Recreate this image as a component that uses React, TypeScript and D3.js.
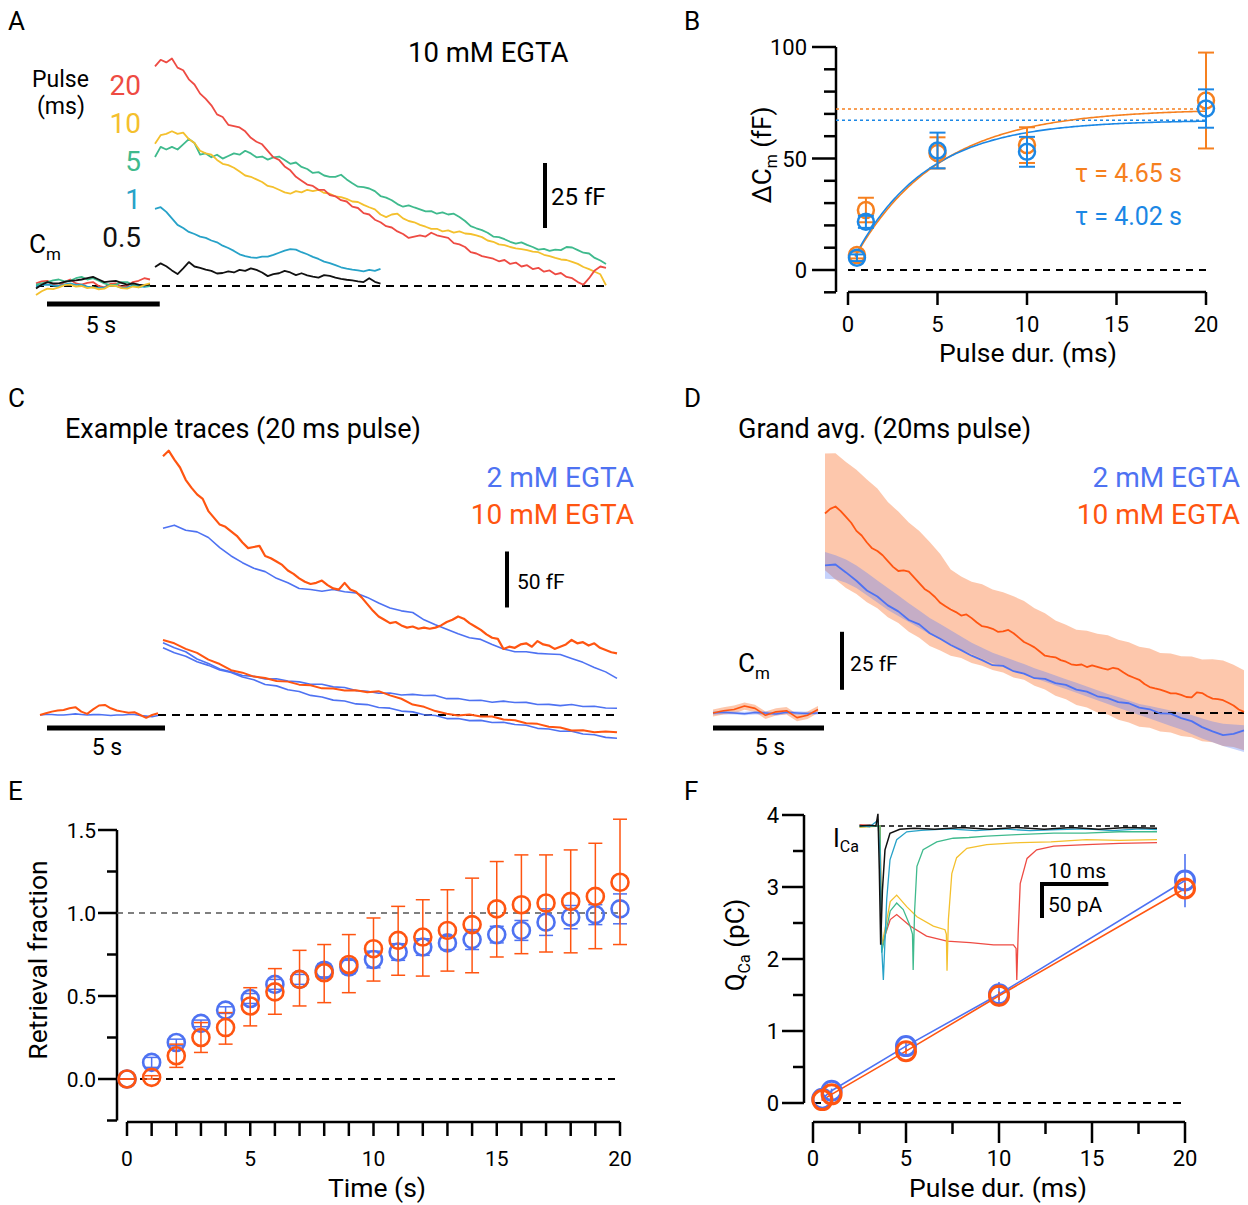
import * as d3 from "d3";
import React from "react";

const FONT = "Roboto, 'Liberation Sans', Arial, sans-serif";

// ---------- colours ----------
const cRed = "#ee4b43";
const cYellow = "#f4c02d";
const cGreen = "#3fba8d";
const cCyan = "#27a2c8";
const cBlack = "#111";
const bOrange = "#f6801f";
const bBlue = "#1b87e5";
const eBlue = "#4e72f2";
const eOrange = "#ff5511";

// ---------- panel A: example Cm traces, 10 mM EGTA (fF, 0.25 s steps) ----------
const aRed = [84.5, 87, 86, 87.5, 84, 83, 79.5, 77.5, 74, 72, 69.5, 66, 65, 62, 61.5, 61, 59.5, 57, 55.5, 54.5, 52, 49.5, 48.5, 46, 44.5, 42, 40.5, 39, 38.5, 37, 37, 35, 34.5, 33, 32.5, 30.5, 30, 28, 27.5, 25.5, 24.5, 23, 22.5, 21, 20, 18.5, 19, 19.5, 19, 20.5, 19.5, 19, 18.5, 16.5, 16, 15, 13, 12.5, 11.5, 11, 10.5, 9.5, 10, 8.5, 9, 7.5, 8, 6.5, 7, 5.5, 6, 4.5, 5, 3.5, 3, 1.5, 0.5, 3, 6, 7.5, 7];
const aYellow = [54.7, 58, 58.5, 59.5, 58.5, 59, 56.5, 55, 52, 51, 50.5, 48.5, 47, 46.5, 45.5, 44, 42.5, 42, 41, 40, 38.5, 38, 37, 36, 35.5, 36.5, 36, 37, 36.5, 37, 35.8, 35.5, 34.5, 34.2, 33.5, 32.5, 32.3, 31.2, 30.3, 29.5, 27.5, 26.5, 27.5, 27.8, 26, 25, 24.5, 23.5, 22.8, 22, 22, 21, 21.4, 20.5, 21, 20.2, 20, 19.5, 18.8, 17.5, 17, 16, 15.7, 15, 14.5, 14.2, 13.8, 13.2, 13, 12, 11.5, 10.8, 10.2, 10, 9.3, 8.5, 7.3, 6.5, 5.5, 4.5, 0.3];
const aGreen = [49.6, 53.5, 52.5, 53.5, 52.5, 54.5, 56.5, 55, 50.5, 51, 49.5, 50.5, 49, 50, 51, 50.5, 52, 51, 49.5, 49.8, 48.6, 49.5, 49.8, 48.5, 47, 47.5, 45.8, 45, 43.5, 43.8, 42.5, 42, 42, 42.8, 41, 39.5, 38.2, 38, 37.5, 36.5, 34.6, 34, 33, 31.5, 30.5, 31, 30.2, 29.5, 28.7, 28.8, 27.8, 28.3, 27.5, 27.8, 26.5, 25, 23, 22.2, 21.5, 20.5, 19, 18.8, 18, 17, 16.3, 16.8, 15.8, 15, 14, 14.3, 13.5, 14, 13.8, 15, 14.8, 13.8, 12.8, 12.5, 10.8, 9.8, 8.5];
const aCyan = [29.7, 30.3, 28.5, 26, 23.5, 22.3, 20.8, 20, 19, 18.5, 17.5, 16.8, 15.5, 14.6, 13.5, 12.2, 11.5, 11, 10.8, 11.3, 11.3, 12, 12.8, 13.6, 14.2, 14, 13, 12.2, 11.2, 10.4, 9.4, 8.8, 8, 7.2, 6.7, 6.3, 6, 5.6, 6.2, 5.8, 6.6];
const aBlack = [7.3, 8.7, 7.6, 6, 4.6, 6.8, 9.2, 7.5, 7, 6.3, 5.8, 4.8, 5, 5.6, 5.2, 6.2, 5.8, 6.8, 6.2, 5.2, 3.8, 4.6, 4.9, 5.8, 5.2, 4.2, 4.9, 4.1, 3.6, 3.2, 4.2, 3.9, 3.2, 2.7, 2.4, 2.2, 1.8, 1.5, 3, 1.6, 0.9];
// pre-pulse baselines, t = -5 .. 0 s
const aRedPre = [1, 1.8, 2, 0.5, 0, 1.5, 2.5, 1, 0.5, 1.2, 1.5, 0, -0.5, 0.8, 1, -0.3, 0, 1.5, 2, 3, 2.5];
const aGreenPre = [0.5, 1, 1.5, 2.2, 2.5, 1.8, 2, 3, 3.5, 2.5, 3, 2, 1, 0.3, 0.5, 1.5, 1.5, 0.5, -0.5, 0.2, 0];
const aYellowPre = [-3.5, -2, -1, -1.2, -0.5, 0.3, 0.5, -0.2, 0, -0.8, -0.5, -1.3, -1, 0.2, 0, -0.8, -1, -0.2, -0.5, 0.4, 1];
const aCyanPre = [0, 0.3, 0.5, 0.2, 0, 0.6, 1, 0.4, 0.5, -0.2, -0.5, -0.7, -0.5, 0.1, 0, -0.6, -0.5, 0.2, 0, -0.3, 0];
const aBlackPre = [-1, 0.5, 1.5, 1, 1, 1.6, 2, 2.2, 2.5, 3, 3.5, 2.5, 1.5, 1.8, 2, 1.2, 0.5, 1, 0.5, 0.2, 0.5];
const aPulseLabels = ["20", "10", "5", "1", "0.5"];

// ---------- panel B: ΔCm vs pulse duration ----------
const bDur = [0.5, 1, 5, 10, 20];
const bOrangeMean = [6.7, 26.9, 52.5, 56, 76];
const bOrangeErr = [1.5, 5.5, 7, 8, 21.5];
const bBlueMean = [5.5, 21.6, 53.6, 53, 72.4];
const bBlueErr = [1.5, 2.7, 8, 6.7, 8.6];
const bFitOrange = { amp: 72.2, tau: 4.65 };
const bFitBlue = { amp: 67.2, tau: 4.02 };
const bYTicks = [0, 50, 100];
const bXTicks = [0, 5, 10, 15, 20];

// ---------- panel C: example traces, 20 ms pulse (fF) ----------
const cOrangeTop = [231, 236, 228, 221, 210, 203, 197, 193, 182, 176, 170, 168, 164, 160, 154, 149, 150, 151, 142, 140, 137, 134, 129, 126, 122, 119, 117, 118, 120, 116, 113, 112, 118, 112, 110, 105, 99, 93, 88, 85, 82, 83, 80, 78, 79, 77, 78, 77, 78, 80, 83, 85, 88, 86, 82, 79, 76, 72, 69, 68, 59, 61, 60, 63, 64, 61, 66, 63, 62, 59, 61, 63, 67, 64, 65, 62, 64, 60, 58, 56, 55];
const cBlueTop = [166.7, 169.5, 165, 163.5, 158.5, 149.5, 142, 136, 131, 128, 122, 118, 113, 112, 110.5, 112, 110, 109, 105, 100, 95.5, 93, 91.5, 85, 80.5, 76.5, 72.5, 69, 67.5, 63, 59, 56.5, 56.5, 55, 54.5, 54, 50.5, 47, 42.5, 38.5, 32.7];
const cOrangeLow = [67, 64, 59, 55.5, 49.5, 45.5, 40, 37.8, 34.3, 33, 30.4, 29.8, 27.1, 26.5, 23.8, 23.7, 21.9, 22.1, 20.3, 21.3, 17.5, 14.5, 9.3, 7.3, 3.5, 1.1, -0.5, 0.5, -1.3, -1.3, -4, -4.7, -7.3, -7.9, -10.5, -11.2, -13.9, -13.7, -15.4, -14.7, -15.5];
const cBlueLowA = [64.5, 60, 56.5, 50, 46, 41, 38.5, 35.3, 34.5, 32.1, 32.3, 30.3, 29.6, 27.4, 27.5, 25.1, 24.5, 21.8, 21.2, 19.4, 19.6, 17.9, 18.4, 17.4, 17.5, 14.6, 14.7, 12.9, 13.1, 11.4, 12.4, 11.1, 11.3, 9.4, 9.5, 8.4, 9.4, 7.6, 7.8, 6.2, 6];
const cBlueLowB = [60, 55.5, 52.5, 47.5, 44.3, 40.1, 38, 33.9, 31.5, 27.3, 26, 22.5, 21, 17.5, 16.1, 13.3, 12.5, 9.9, 9.3, 6.7, 6.1, 3.5, 2.8, 0.2, -0.5, -3.2, -3.2, -5, -4.8, -6.7, -6.5, -8.5, -9.2, -11.9, -12.5, -14.5, -14.4, -17, -17.7, -20, -20.8];
const cOrangePre = [0, 1.5, 3, 4, 4.5, 6, 7, 3, 1, 5, 8.5, 9, 6, 4, 3, 2, 2.5, 0, -2.5, 0, 1.5];
const cBluePre = [0, 0.5, 0.5, 0, 0, 0.5, 1, 0.5, 0, 0.3, 0.5, 0, -0.5, 0, 0, 0.5, 0.5, -0.5, -1, -1.5, -0.5];

// ---------- panel D: grand average, 20 ms pulse (fF) ----------
const dOrange = [86, 88, 89, 87, 84.5, 82, 78.5, 76.5, 73.5, 71, 69.8, 68, 65.5, 63, 61.2, 61.5, 60.9, 58.5, 56, 53.5, 52, 50, 47.5, 46, 44.6, 43.5, 42, 42.5, 40.9, 39, 37.4, 37, 36.3, 35, 35.2, 35.8, 34.4, 32.5, 30.6, 29.5, 28.3, 26.5, 24.7, 24.3, 24, 22.8, 22.1, 21, 20.6, 20.9, 19.8, 20.5, 19.9, 19.2, 18.7, 19.5, 19, 17.5, 16.1, 15.2, 14.3, 12.5, 11.2, 10.6, 10.1, 9.3, 8.5, 8.5, 7.8, 6.9, 6.7, 8.9, 8.6, 7.2, 6.2, 6, 5.5, 4.4, 3.2, 1.5, 0.5];
const dOrangeHi = [111.8, 112, 108.2, 104.8, 100.7, 96.8, 90.9, 86.8, 82.1, 78.5, 73.7, 68.5, 61.9, 58.8, 56.6, 55.5, 53.2, 52, 50.3, 48.3, 45.1, 43, 39.9, 38, 35.9, 35.5, 34.2, 33.5, 31.6, 30.5, 28.6, 27.8, 25.9, 25.6, 24.5, 24.3, 23.1, 23.2, 22.6, 20.8, 18.4];
const dOrangeLo = [61.5, 57.5, 53.9, 51.3, 47.7, 45.2, 41.3, 38.8, 35, 32.4, 28.9, 26.9, 24.7, 23.7, 21.5, 20.4, 18.5, 17.5, 15.3, 14.3, 11.7, 10.1, 7.4, 5.9, 3.5, 2.4, 0.2, -0.7, -2.9, -4.1, -5.9, -6.4, -8, -8.4, -9.9, -10.5, -12.2, -12.6, -14.2, -14.7, -16.1];
const dBlue = [63.6, 64, 60.6, 57, 52.8, 50.2, 46.4, 43.8, 40.1, 38.2, 34.4, 32, 29.3, 27.1, 24.7, 22.8, 20.6, 20.3, 18, 17, 15, 14.7, 12.9, 12.1, 10.1, 9.2, 7.2, 6.4, 4.7, 4.2, 2.3, 1.6, -0.2, -0.3, -2.2, -3.5, -6.1, -7.9, -9.5, -9, -7.5];
const dBlueHi = [69.4, 68, 66.2, 63.6, 60.5, 57.1, 53.9, 50.7, 47.3, 44.2, 41, 38.4, 35.7, 33, 30.3, 28.1, 26, 24.3, 22.7, 21.1, 19.3, 17.8, 16.2, 14.6, 13, 11.4, 9.8, 8.2, 6.9, 5.4, 3.9, 3, 2.1, 1.1, 0.1, -0.9, -2.4, -3.7, -4.6, -5, -5.3];
const dBlueLo = [57.9, 57.7, 56.1, 53.9, 50.8, 47.6, 44.4, 41.8, 39.2, 36.6, 33.9, 31.7, 29.6, 27.5, 25.4, 23.4, 21.5, 20, 18.4, 16.8, 15.1, 13.5, 11.9, 10.3, 8.7, 7.1, 5.5, 3.9, 2.3, 0.7, -0.9, -2.4, -4, -5.6, -7.1, -9, -11, -12.6, -14.2, -15.5, -16.8];
const dOrangePre = [0, 1, 1.5, 3, 2, -1, 0.5, 1, -2, -1, 1.5];
const dOrangePreHi = [1.5, 2.5, 3.2, 4.5, 3.6, 0.6, 2, 2.6, -0.4, 0.6, 3];
const dOrangePreLo = [-1.5, -0.6, -0.2, 1.4, 0.4, -2.6, -1.1, -0.6, -3.6, -2.6, 0];
const dBluePre = [0, 0.3, 0, -0.3, 0.2, 0, -0.4, 0.3, 0, -0.2, 0];
const dBluePreHi = [0.8, 1, 0.7, 0.5, 0.9, 0.8, 0.3, 1, 0.8, 0.5, 0.7];
const dBluePreLo = [-0.8, -0.5, -0.7, -1, -0.6, -0.8, -1.1, -0.4, -0.8, -0.9, -0.7];

// ---------- panel E: retrieval fraction vs time ----------
const eTime = d3.range(0, 21);
const eOrangeMean = [0, 0.01, 0.14, 0.25, 0.31, 0.44, 0.525, 0.6, 0.64, 0.69, 0.785, 0.835, 0.855, 0.895, 0.93, 1.025, 1.05, 1.06, 1.07, 1.1, 1.185];
const eOrangeHi = [0, 0.02, 0.21, 0.34, 0.4, 0.55, 0.665, 0.775, 0.81, 0.87, 0.97, 1.04, 1.08, 1.14, 1.21, 1.31, 1.35, 1.35, 1.38, 1.42, 1.565];
const eOrangeLo = [0, 0, 0.07, 0.16, 0.21, 0.32, 0.39, 0.44, 0.46, 0.52, 0.59, 0.625, 0.62, 0.65, 0.64, 0.735, 0.755, 0.765, 0.76, 0.785, 0.81];
const eBlueMean = [0, 0.1, 0.22, 0.335, 0.415, 0.485, 0.57, 0.6, 0.655, 0.675, 0.72, 0.765, 0.795, 0.82, 0.84, 0.87, 0.895, 0.945, 0.975, 0.99, 1.025];
const eBlueErr = [0, 0.03, 0.02, 0.02, 0.02, 0.03, 0.03, 0.03, 0.04, 0.04, 0.05, 0.05, 0.05, 0.04, 0.06, 0.05, 0.06, 0.08, 0.07, 0.06, 0.09];
const eYTicks = [0, 0.5, 1.0, 1.5];
const eXLabels = [0, 5, 10, 15, 20];

// ---------- panel F: QCa vs pulse duration ----------
const fDur = [0.5, 1, 5, 10, 20];
const fBlueMean = [0.06, 0.17, 0.79, 1.51, 3.09];
const fBlueErr = [0.02, 0.03, 0.05, 0.17, 0.37];
const fOrangeMean = [0.04, 0.12, 0.72, 1.49, 2.98];
const fOrangeErr = [0.01, 0.02, 0.04, 0.06, 0.08];
const fYTicks = [0, 1, 2, 3, 4];
const fXTicks = [0, 5, 10, 15, 20];
// inset I_Ca traces: [ms, pA]
const icaBlack = [[-3, 0], [-1.5, 1], [-0.6, 0], [-0.3, 17], [-0.1, -60], [0.1, -165], [0.35, -90], [0.73, -33], [1.46, -10], [2.9, -4.6], [5, -3], [8, -4.5], [12, -2], [16, -4.5], [20, -2], [24, -4.5], [28, -2], [32, -4.5], [36, -2], [40.5, -3]];
const icaCyan = [[-3, 1], [-1.5, -1], [-0.3, 8], [0, -40], [0.24, -167], [0.49, -214], [0.98, -102], [1.46, -47], [2.44, -19], [3.9, -8], [6, -6], [10, -4], [14, -6.5], [18, -4], [22, -6.5], [26, -5], [30, -4], [34, -6.5], [38, -4], [40.5, -5]];
const icaGreen = [[-3, -1], [0, 0], [0.24, -176], [0.8, -150], [1.5, -118], [2.44, -107], [3.4, -116], [4.4, -139], [4.75, -150], [4.85, -200], [5.05, -120], [5.4, -56], [6.3, -33], [8.3, -22], [10.7, -17], [13, -16], [15.6, -14], [20, -12], [25.4, -10], [30, -10], [35, -8], [40.5, -8]];
const icaYellow = [[-3, -2], [0, 0], [0.24, -167], [0.8, -140], [1.5, -105], [2.44, -96], [3.9, -112], [5.4, -126], [7.8, -139], [9.5, -144], [9.7, -150], [9.8, -201], [10, -130], [10.5, -66], [11.2, -44], [12.7, -31], [15.6, -26], [20.5, -23], [25, -22], [30.2, -19], [35, -20], [40.5, -19]];
const icaRed = [[-3, 2], [0, 0], [0.24, -167], [0.8, -150], [1.5, -130], [2.44, -123], [4.4, -139], [6.8, -153], [9.8, -160], [13.2, -162], [16.6, -165], [19.5, -165], [19.9, -170], [20.0, -214], [20.2, -150], [20.5, -80], [21.5, -45], [22.9, -33], [25.4, -28], [30.2, -26], [35, -24], [40.5, -23]];

// ---------- helpers ----------
function Trace({ vals, x, y, t0 = 0, dt = 0.5, color, w = 1.8 }: any) {
  const line = d3.line<number>().x((_, i) => x(t0 + i * dt)).y((v) => y(v));
  return <path d={line(vals) || ""} fill="none" stroke={color} strokeWidth={w} strokeLinejoin="round" />;
}

function Band({ lo, hi, x, y, t0 = 0, dt = 0.5, color, opacity }: any) {
  const area = d3.area<number>().x((_, i) => x(t0 + i * dt)).y0((_, i) => y(lo[i])).y1((v) => y(v));
  return <path d={area(hi) || ""} fill={color} fillOpacity={opacity} stroke="none" />;
}

function Bar({ x1, y1, x2, y2, w = 4 }: any) {
  return <line x1={x1} y1={y1} x2={x2} y2={y2} stroke="#000" strokeWidth={w} />;
}

// ---------- panel A ----------
function PanelA() {
  const x = d3.scaleLinear().domain([0, 20]).range([155, 606]);
  const xPre = d3.scaleLinear().domain([-5, 0]).range([36, 150]);
  const y = d3.scaleLinear().domain([0, 100]).range([286, 26]);
  const post = [
    { v: aGreen, c: cGreen },
    { v: aYellow, c: cYellow },
    { v: aRed, c: cRed },
    { v: aCyan, c: cCyan },
    { v: aBlack, c: cBlack },
  ];
  const pre = [
    { v: aRedPre, c: cRed },
    { v: aCyanPre, c: cCyan },
    { v: aGreenPre, c: cGreen },
    { v: aBlackPre, c: cBlack },
    { v: aYellowPre, c: cYellow },
  ];
  const labelColors = [cRed, cYellow, cGreen, cCyan, cBlack];
  const labelY = [95, 133, 171, 209, 247];
  return (
    <g>
      <text x={8} y={30} fontSize={26}>A</text>
      <text x={408} y={62} fontSize={27.5}>10 mM EGTA</text>
      <text x={32} y={87} fontSize={23}>Pulse</text>
      <text x={37} y={114} fontSize={23}>(ms)</text>
      {aPulseLabels.map((l, i) => (
        <text key={l} x={141} y={labelY[i]} fontSize={28} textAnchor="end" fill={labelColors[i]}>{l}</text>
      ))}
      <text x={29} y={253} fontSize={26}>C<tspan fontSize={17} dy={7}>m</tspan></text>
      <line x1={36} x2={606} y1={y(0)} y2={y(0)} stroke="#000" strokeWidth={2} strokeDasharray="8 6" />
      {pre.map((p, i) => <Trace key={"p" + i} vals={p.v} x={xPre} y={y} t0={-5} dt={0.25} color={p.c} />)}
      {post.map((p, i) => <Trace key={"a" + i} vals={p.v} x={x} y={y} dt={0.25} color={p.c} />)}
      <Bar x1={545} x2={545} y1={y(47.3)} y2={y(22.3)} w={4} />
      <text x={551} y={205} fontSize={24}>25 fF</text>
      <Bar x1={47} x2={47 + 5 * (x(1) - x(0))} y1={304} y2={304} w={5} />
      <text x={101} y={333} fontSize={23} textAnchor="middle">5 s</text>
    </g>
  );
}

// ---------- panel B ----------
function PanelB() {
  const x = d3.scaleLinear().domain([0, 20]).range([848, 1206]);
  const y = d3.scaleLinear().domain([0, 100]).range([270, 47]);
  const axX = 836;
  const axY = 292;
  const fit = (p: { amp: number; tau: number }) =>
    d3.line<number>().x((d) => x(d)).y((d) => y(p.amp * (1 - Math.exp(-d / p.tau))))(d3.range(0.4, 20.01, 0.1)) || "";
  const points = (m: number[], e: number[], c: string) => (
    <g stroke={c} strokeWidth={2.5} fill="none">
      {bDur.map((d, i) => (
        <g key={i}>
          <line x1={x(d)} x2={x(d)} y1={y(m[i] - e[i])} y2={y(m[i] + e[i])} strokeWidth={2} />
          <line x1={x(d) - 8} x2={x(d) + 8} y1={y(m[i] - e[i])} y2={y(m[i] - e[i])} strokeWidth={2} />
          <line x1={x(d) - 8} x2={x(d) + 8} y1={y(m[i] + e[i])} y2={y(m[i] + e[i])} strokeWidth={2} />
          <circle cx={x(d)} cy={y(m[i])} r={8} />
        </g>
      ))}
    </g>
  );
  return (
    <g>
      <text x={684} y={30} fontSize={26}>B</text>
      {/* axes */}
      <line x1={axX} x2={axX} y1={y(100)} y2={axY} stroke="#000" strokeWidth={2.5} />
      {d3.range(-10, 101, 10).map((t) => (
        <line key={t} x1={axX - (bYTicks.includes(t) ? 24 : 12)} x2={axX} y1={y(t)} y2={y(t)} stroke="#000" strokeWidth={2.5} />
      ))}
      {bYTicks.map((t) => (
        <text key={t} x={807} y={y(t) + 8} fontSize={22} textAnchor="end">{t}</text>
      ))}
      <line x1={x(0)} x2={x(20)} y1={axY} y2={axY} stroke="#000" strokeWidth={2.5} />
      {bXTicks.map((t) => (
        <g key={t}>
          <line x1={x(t)} x2={x(t)} y1={axY} y2={axY + 13} stroke="#000" strokeWidth={2.5} />
          <text x={x(t)} y={332} fontSize={22} textAnchor="middle">{t}</text>
        </g>
      ))}
      <text x={1028} y={362} fontSize={26.5} textAnchor="middle">Pulse dur. (ms)</text>
      <text transform="translate(771,155) rotate(-90)" fontSize={26} textAnchor="middle">
        ΔC<tspan fontSize={16} dy={6}>m</tspan><tspan dy={-6}> (fF)</tspan>
      </text>
      <line x1={x(0)} x2={x(20)} y1={y(0)} y2={y(0)} stroke="#000" strokeWidth={2} strokeDasharray="7 6" />
      <line x1={axX} x2={x(20)} y1={y(bFitOrange.amp)} y2={y(bFitOrange.amp)} stroke={bOrange} strokeWidth={1.5} strokeDasharray="3 3" />
      <line x1={axX} x2={x(20)} y1={y(bFitBlue.amp)} y2={y(bFitBlue.amp)} stroke={bBlue} strokeWidth={1.5} strokeDasharray="3 3" />
      <path d={fit(bFitOrange)} fill="none" stroke={bOrange} strokeWidth={1.6} />
      <path d={fit(bFitBlue)} fill="none" stroke={bBlue} strokeWidth={1.6} />
      {points(bOrangeMean, bOrangeErr, bOrange)}
      {points(bBlueMean, bBlueErr, bBlue)}
      <text x={1075} y={182} fontSize={25} fill={bOrange}>τ = {bFitOrange.tau.toFixed(2)} s</text>
      <text x={1075} y={225} fontSize={25} fill={bBlue}>τ = {bFitBlue.tau.toFixed(2)} s</text>
    </g>
  );
}

// ---------- panel C ----------
function PanelC() {
  const x = d3.scaleLinear().domain([0, 20]).range([163, 617]);
  const xPre = d3.scaleLinear().domain([-5, 0]).range([40, 158]);
  const y = d3.scaleLinear().domain([0, 250]).range([715, 435]);
  return (
    <g>
      <text x={8} y={407} fontSize={26}>C</text>
      <text x={65} y={438} fontSize={27}>Example traces (20 ms pulse)</text>
      <text x={634} y={487} fontSize={28} textAnchor="end" fill={eBlue}>2 mM EGTA</text>
      <text x={634} y={524} fontSize={28} textAnchor="end" fill={eOrange}>10 mM EGTA</text>
      <line x1={158} x2={617} y1={y(0)} y2={y(0)} stroke="#000" strokeWidth={2} strokeDasharray="8 6" />
      <Trace vals={cBluePre} x={xPre} y={y} t0={-5} dt={0.25} color={eBlue} w={1.6} />
      <Trace vals={cOrangePre} x={xPre} y={y} t0={-5} dt={0.25} color={eOrange} w={2} />
      <Trace vals={cBlueLowA} x={x} y={y} color={eBlue} w={1.6} />
      <Trace vals={cBlueLowB} x={x} y={y} color={eBlue} w={1.6} />
      <Trace vals={cOrangeLow} x={x} y={y} color={eOrange} w={2} />
      <Trace vals={cBlueTop} x={x} y={y} color={eBlue} w={1.6} />
      <Trace vals={cOrangeTop} x={x} y={y} dt={0.25} color={eOrange} w={2.2} />
      <Bar x1={507} x2={507} y1={y(146)} y2={y(96)} w={4} />
      <text x={517} y={589} fontSize={21}>50 fF</text>
      <Bar x1={47} x2={165} y1={728} y2={728} w={5} />
      <text x={107} y={755} fontSize={23} textAnchor="middle">5 s</text>
    </g>
  );
}

// ---------- panel D ----------
function PanelD() {
  const x = d3.scaleLinear().domain([0, 20]).range([825, 1244]);
  const xPre = d3.scaleLinear().domain([-5, 0]).range([713, 818]);
  const y = d3.scaleLinear().domain([0, 100]).range([713, 481]);
  return (
    <g>
      <text x={684} y={407} fontSize={26}>D</text>
      <text x={738} y={438} fontSize={27}>Grand avg. (20ms pulse)</text>
      <text x={1240} y={487} fontSize={28} textAnchor="end" fill={eBlue}>2 mM EGTA</text>
      <text x={1240} y={524} fontSize={28} textAnchor="end" fill={eOrange}>10 mM EGTA</text>
      <Band lo={dOrangeLo} hi={dOrangeHi} x={x} y={y} color="#fa7a3a" opacity={0.42} />
      <Band lo={dBlueLo} hi={dBlueHi} x={x} y={y} color="#5b7df5" opacity={0.35} />
      <Band lo={dOrangePreLo} hi={dOrangePreHi} x={xPre} y={y} t0={-5} color="#fa7a3a" opacity={0.42} />
      <Band lo={dBluePreLo} hi={dBluePreHi} x={xPre} y={y} t0={-5} color="#5b7df5" opacity={0.35} />
      <line x1={818} x2={1244} y1={y(0)} y2={y(0)} stroke="#000" strokeWidth={2} strokeDasharray="8 6" />
      <Trace vals={dBluePre} x={xPre} y={y} t0={-5} color={eBlue} w={1.6} />
      <Trace vals={dOrangePre} x={xPre} y={y} t0={-5} color={eOrange} w={1.6} />
      <Trace vals={dBlue} x={x} y={y} color={eBlue} w={1.8} />
      <Trace vals={dOrange} x={x} y={y} dt={0.25} color={eOrange} w={1.8} />
      <text x={738} y={672} fontSize={26}>C<tspan fontSize={17} dy={7}>m</tspan></text>
      <Bar x1={842} x2={842} y1={y(35)} y2={y(10)} w={4} />
      <text x={850} y={671} fontSize={21}>25 fF</text>
      <Bar x1={713} x2={824} y1={728} y2={728} w={5} />
      <text x={770} y={755} fontSize={23} textAnchor="middle">5 s</text>
    </g>
  );
}

// ---------- panel E ----------
function PanelE() {
  const x = d3.scaleLinear().domain([0, 20]).range([127, 620]);
  const y = d3.scaleLinear().domain([0, 1.5]).range([1079, 830]);
  const axX = 117;
  const axY = 1122;
  return (
    <g>
      <text x={8} y={800} fontSize={26}>E</text>
      <line x1={axX} x2={axX} y1={y(1.5)} y2={y(-0.25)} stroke="#000" strokeWidth={2.5} />
      {d3.range(-0.25, 1.51, 0.25).map((t) => (
        <line key={t} x1={axX - (Math.abs(t * 2 - Math.round(t * 2)) < 1e-6 ? 19 : 10)} x2={axX} y1={y(t)} y2={y(t)} stroke="#000" strokeWidth={2.5} />
      ))}
      {eYTicks.map((t) => (
        <text key={t} x={96} y={y(t) + 8} fontSize={21} textAnchor="end">{t.toFixed(1)}</text>
      ))}
      <line x1={x(0)} x2={x(20)} y1={axY} y2={axY} stroke="#000" strokeWidth={2.5} />
      {eTime.map((t) => (
        <line key={t} x1={x(t)} x2={x(t)} y1={axY} y2={axY + 14} stroke="#000" strokeWidth={2.5} />
      ))}
      {eXLabels.map((t) => (
        <text key={t} x={x(t)} y={1166} fontSize={21} textAnchor="middle">{t}</text>
      ))}
      <text x={377} y={1197} fontSize={26.5} textAnchor="middle">Time (s)</text>
      <text transform="translate(47,960) rotate(-90)" fontSize={26.5} textAnchor="middle">Retrieval fraction</text>
      <line x1={x(0)} x2={x(20)} y1={y(0)} y2={y(0)} stroke="#000" strokeWidth={2} strokeDasharray="7 6" />
      <line x1={axX} x2={x(20)} y1={y(1)} y2={y(1)} stroke="#555" strokeWidth={1.3} strokeDasharray="6 5" />
      <g stroke={eBlue} fill="none">
        {eTime.map((t, i) => (
          <g key={t}>
            <line x1={x(t)} x2={x(t)} y1={y(eBlueMean[i] - eBlueErr[i])} y2={y(eBlueMean[i] + eBlueErr[i])} strokeWidth={1.5} />
            <line x1={x(t) - 7} x2={x(t) + 7} y1={y(eBlueMean[i] - eBlueErr[i])} y2={y(eBlueMean[i] - eBlueErr[i])} strokeWidth={1.5} />
            <line x1={x(t) - 7} x2={x(t) + 7} y1={y(eBlueMean[i] + eBlueErr[i])} y2={y(eBlueMean[i] + eBlueErr[i])} strokeWidth={1.5} />
            <circle cx={x(t)} cy={y(eBlueMean[i])} r={8.5} strokeWidth={2.6} />
          </g>
        ))}
      </g>
      <g stroke={eOrange} fill="none">
        {eTime.map((t, i) => (
          <g key={t}>
            <line x1={x(t)} x2={x(t)} y1={y(eOrangeLo[i])} y2={y(eOrangeHi[i])} strokeWidth={1.5} />
            <line x1={x(t) - 7} x2={x(t) + 7} y1={y(eOrangeLo[i])} y2={y(eOrangeLo[i])} strokeWidth={1.5} />
            <line x1={x(t) - 7} x2={x(t) + 7} y1={y(eOrangeHi[i])} y2={y(eOrangeHi[i])} strokeWidth={1.5} />
            <circle cx={x(t)} cy={y(eOrangeMean[i])} r={8.5} strokeWidth={2.6} />
          </g>
        ))}
      </g>
    </g>
  );
}

// ---------- panel F ----------
function PanelF() {
  const x = d3.scaleLinear().domain([0, 20]).range([813, 1185]);
  const y = d3.scaleLinear().domain([0, 4]).range([1103, 815]);
  const axX = 804;
  const axY = 1122;
  const xi = d3.scaleLinear().domain([0, 40.5]).range([880, 1157]);
  const yi = d3.scaleLinear().domain([0, -100]).range([826, 898]);
  const iline = d3.line<number[]>().x((d) => xi(d[0])).y((d) => yi(d[1]));
  const fline = (m: number[]) => d3.line<number>().x((_, i) => x(fDur[i])).y((v) => y(v))(m) || "";
  const pts = (m: number[], e: number[], c: string) => (
    <g stroke={c} fill="none">
      {fDur.map((d, i) => (
        <g key={i}>
          <line x1={x(d)} x2={x(d)} y1={y(m[i] - e[i])} y2={y(m[i] + e[i])} strokeWidth={1.6} />
          <circle cx={x(d)} cy={y(m[i])} r={9.5} strokeWidth={3} />
        </g>
      ))}
    </g>
  );
  return (
    <g>
      <text x={684} y={800} fontSize={26}>F</text>
      <line x1={axX} x2={axX} y1={y(4)} y2={y(0)} stroke="#000" strokeWidth={2.5} />
      {d3.range(0, 4.01, 0.5).map((t) => (
        <line key={t} x1={axX - (t % 1 === 0 ? 22 : 11)} x2={axX} y1={y(t)} y2={y(t)} stroke="#000" strokeWidth={2.5} />
      ))}
      {fYTicks.map((t) => (
        <text key={t} x={779} y={y(t) + 8} fontSize={22} textAnchor="end">{t}</text>
      ))}
      <line x1={x(0)} x2={x(20)} y1={axY} y2={axY} stroke="#000" strokeWidth={2.5} />
      {d3.range(0, 20.01, 2.5).map((t) => (
        <line key={t} x1={x(t)} x2={x(t)} y1={axY} y2={axY + (t % 5 === 0 ? 21 : 12)} stroke="#000" strokeWidth={2.5} />
      ))}
      {fXTicks.map((t) => (
        <text key={t} x={x(t)} y={1166} fontSize={22} textAnchor="middle">{t}</text>
      ))}
      <text x={998} y={1197} fontSize={26.5} textAnchor="middle">Pulse dur. (ms)</text>
      <text transform="translate(744,945) rotate(-90)" fontSize={26} textAnchor="middle">
        Q<tspan fontSize={16} dy={6}>Ca</tspan><tspan dy={-6}> (pC)</tspan>
      </text>
      <line x1={x(0)} x2={x(20)} y1={y(0)} y2={y(0)} stroke="#000" strokeWidth={2} strokeDasharray="8 7" />
      {/* inset */}
      <line x1={xi(0)} x2={xi(40.5)} y1={yi(0)} y2={yi(0)} stroke="#000" strokeWidth={1.6} strokeDasharray="5 4" />
      <path d={iline(icaRed) || ""} fill="none" stroke={cRed} strokeWidth={1.3} />
      <path d={iline(icaYellow) || ""} fill="none" stroke={cYellow} strokeWidth={1.3} />
      <path d={iline(icaGreen) || ""} fill="none" stroke={cGreen} strokeWidth={1.3} />
      <path d={iline(icaCyan) || ""} fill="none" stroke={cCyan} strokeWidth={1.3} />
      <path d={iline(icaBlack) || ""} fill="none" stroke={cBlack} strokeWidth={1.5} />
      <text x={833} y={847} fontSize={25}>I<tspan fontSize={16} dy={5}>Ca</tspan></text>
      <Bar x1={1040} x2={xi(10) - xi(0) + 1040} y1={884} y2={884} w={4} />
      <Bar x1={1042} x2={1042} y1={882} y2={882 + (yi(-50) - yi(0))} w={4} />
      <text x={1048} y={878} fontSize={21}>10 ms</text>
      <text x={1048} y={912} fontSize={21}>50 pA</text>
      <path d={fline(fBlueMean)} fill="none" stroke={eBlue} strokeWidth={1.6} />
      <path d={fline(fOrangeMean)} fill="none" stroke={eOrange} strokeWidth={1.6} />
      {pts(fBlueMean, fBlueErr, eBlue)}
      {pts(fOrangeMean, fOrangeErr, eOrange)}
    </g>
  );
}

export default function App() {
  return (
    <svg
      width={1248}
      height={1205}
      style={{ position: "absolute", left: 0, top: 0, background: "#fff" }}
      fontFamily={FONT}
    >
      <PanelA />
      <PanelB />
      <PanelC />
      <PanelD />
      <PanelE />
      <PanelF />
    </svg>
  );
}
